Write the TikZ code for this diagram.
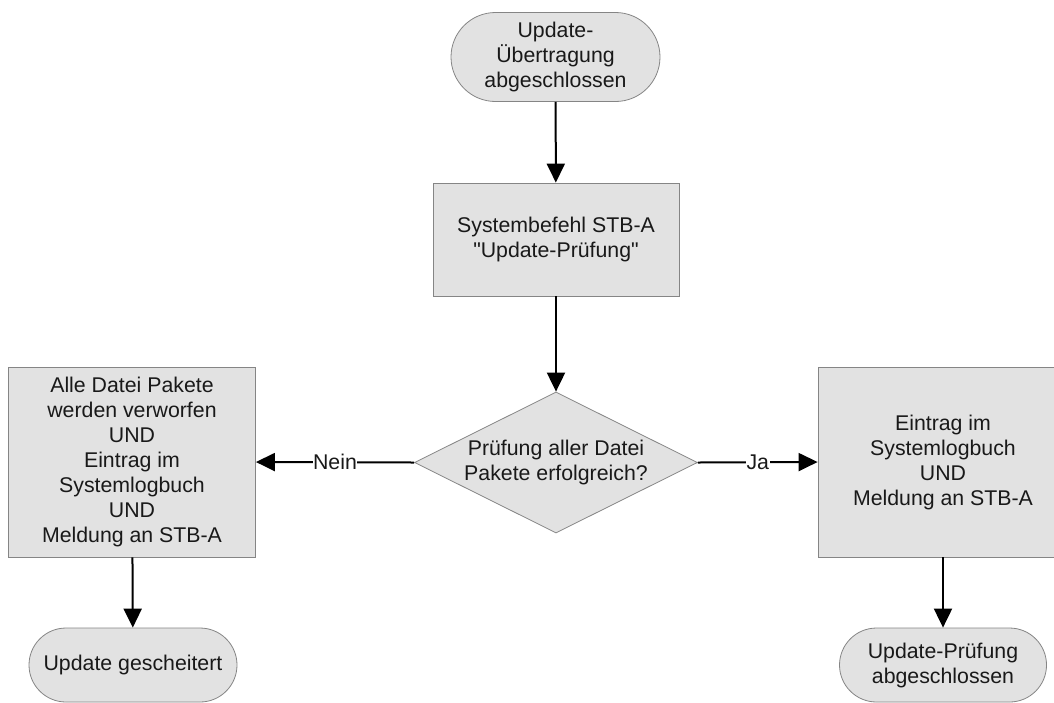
\documentclass[tikz,border=0pt]{standalone}
\usepackage{fontspec}
\setmainfont{Liberation Sans}
\usetikzlibrary{shapes.geometric,shapes.misc,arrows.meta}
\definecolor{boxfill}{HTML}{E2E2E2}
\definecolor{boxline}{HTML}{858585}
\begin{document}
\begin{tikzpicture}[x=1pt,y=-1pt,
  every node/.style={font=\fontsize{21.3}{25}\selectfont, align=center, text=black!90},
  terminal/.style={rounded rectangle, draw=boxline, fill=boxfill, line width=0.8pt, inner sep=0pt},
  process/.style={rectangle, draw=boxline, fill=boxfill, line width=0.8pt, inner sep=0pt},
  decision/.style={diamond, aspect=2, draw=boxline, fill=boxfill, line width=0.8pt, inner sep=0pt},
  flow/.style={line width=2pt, -{Triangle[length=19pt,width=18pt]}},
  branch/.style={fill=white, inner sep=0.5pt}]
\useasboundingbox (0,0) rectangle (1054,702);

\node[terminal, minimum width=209pt, minimum height=89pt] (start) at (555.5,57)
  {Update-\\Übertragung\\abgeschlossen};
\node[process, minimum width=246pt, minimum height=113pt] (cmd) at (556,239.5)
  {Systembefehl STB-A\\\textquotedbl Update-Prüfung\textquotedbl};
\node[decision, minimum width=283pt, minimum height=141pt] (check) at (556,462.5)
  {Prüfung aller Datei\\Pakete erfolgreich?};
\node[process, minimum width=247pt, minimum height=190pt] (fail) at (132,462)
  {Alle Datei Pakete\\werden verworfen\\UND\\Eintrag im\\Systemlogbuch\\UND\\Meldung an STB-A};
\node[process, minimum width=250pt, minimum height=190pt] (ok) at (943,462)
  {Eintrag im\\Systemlogbuch\\UND\\Meldung an STB-A};
\node[terminal, minimum width=208pt, minimum height=74pt] (failend) at (133,665)
  {Update gescheitert};
\node[terminal, minimum width=207pt, minimum height=74pt] (okend) at (943,665)
  {Update-Prüfung\\abgeschlossen};

\draw[flow] (start) -- (cmd);
\draw[flow] (cmd) -- (check);
\draw[flow] (check.west) -- node[branch] {Nein} (fail.east);
\draw[flow] (check.east) -- node[branch] {Ja} (ok.west);
\draw[flow] (fail) -- (failend);
\draw[flow] (ok) -- (okend);
\end{tikzpicture}
\end{document}
